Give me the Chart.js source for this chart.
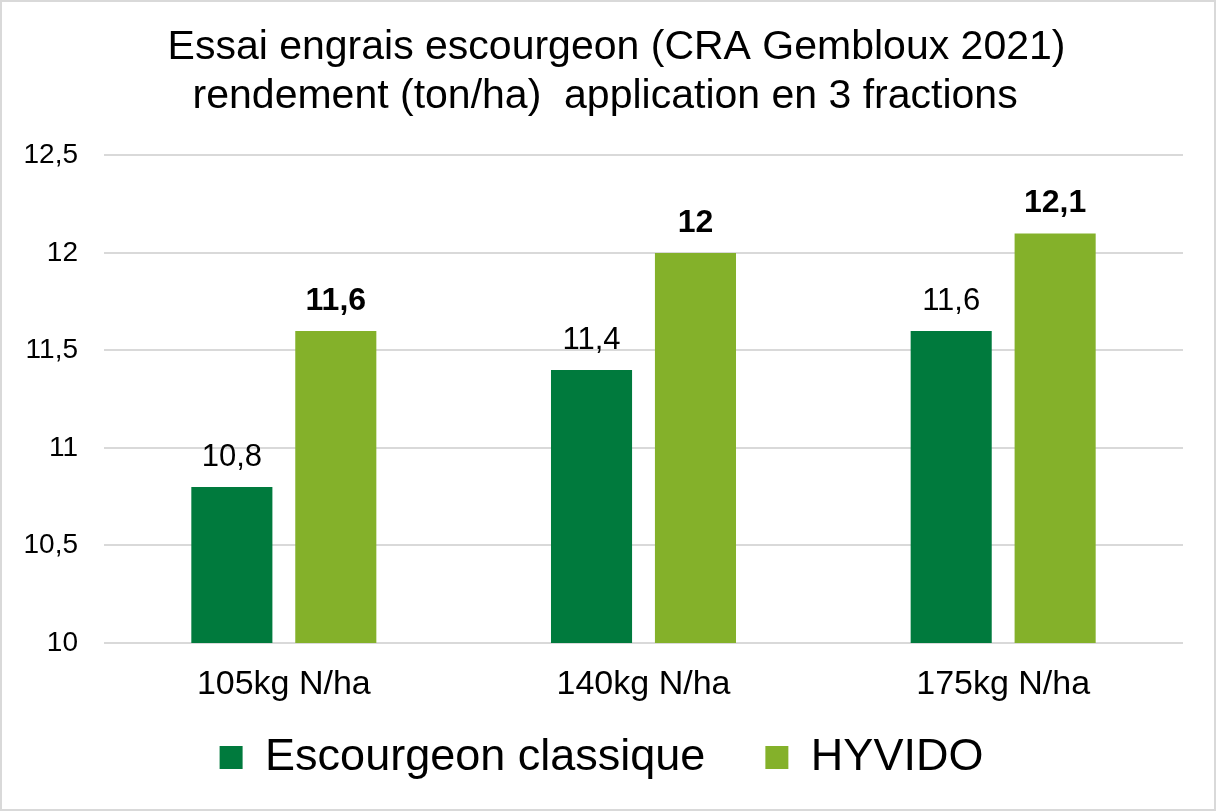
<!DOCTYPE html>
<html>
<head>
<meta charset="utf-8">
<script src="https://cdn.jsdelivr.net/npm/chart.js@4.4.0/dist/chart.umd.min.js"></script>
<style>
  html, body { margin: 0; padding: 0; background: #fff; }
  #wrap { width: 1216px; height: 811px; box-sizing: border-box; border: 2px solid #d9d9d9; background: #fff; }
  canvas { display: block; }
</style>
</head>
<body>
<div id="wrap"><canvas id="c" width="1212" height="807"></canvas></div>
<script>
const categories = ['105kg N/ha', '140kg N/ha', '175kg N/ha'];
const seriesNames = ['Escourgeon classique', 'HYVIDO'];
const classique = [10.8, 11.4, 11.6];
const hyvido = [11.6, 12.0, 12.1];
const yMin = 10, yMax = 12.5, yStep = 0.5;

const FONT = '"Liberation Sans", Arial, Helvetica, sans-serif';
const fmt = v => String(v).replace('.', ',');

const valueLabels = {
  id: 'valueLabels',
  afterDatasetsDraw(chart) {
    const ctx = chart.ctx;
    ctx.save();
    ctx.fillStyle = '#000';
    ctx.textAlign = 'center';
    ctx.textBaseline = 'alphabetic';
    chart.data.datasets.forEach((ds, di) => {
      const meta = chart.getDatasetMeta(di);
      ctx.font = (di === 1 ? 'bold 32px ' : '31px ') + FONT;
      meta.data.forEach((el, i) => {
        ctx.fillText(fmt(ds.data[i]), el.x, el.y - 21);
      });
    });
    ctx.restore();
  }
};

const layoutTweaks = {
  id: 'layoutTweaks',
  afterLayout(chart) {
    chart.legend.left += 9;
    chart.legend.right += 9;
    chart.titleBlock.left += 24;
    chart.titleBlock.right += 24;
    chart.scales.x._computeLabelArea = function () { return undefined; };
  }
};

new Chart(document.getElementById('c'), {
  type: 'bar',
  data: {
    labels: categories,
    datasets: [
      { label: seriesNames[0], data: classique, backgroundColor: '#007A3D', categoryPercentage: 0.578, barPercentage: 0.78 },
      { label: seriesNames[1], data: hyvido, backgroundColor: '#84B12A', categoryPercentage: 0.578, barPercentage: 0.78 }
    ]
  },
  options: {
    responsive: false,
    animation: false,
    devicePixelRatio: 1,
    layout: { padding: { left: 0, right: 31, top: 0, bottom: 19 } },
    plugins: {
      title: {
        display: true,
        text: ['Essai engrais escourgeon (CRA Gembloux 2021)', 'rendement (ton/ha)  application en 3 fractions  '],
        color: '#000',
        font: { family: FONT, size: 41, weight: 'normal', lineHeight: 1.2 },
        padding: { top: 21, bottom: 34 }
      },
      legend: {
        position: 'bottom',
        labels: {
          color: '#000',
          font: { family: FONT, size: 45 },
          boxWidth: 23,
          boxHeight: 23,
          padding: 60
        }
      },
      tooltip: { enabled: false }
    },
    scales: {
      x: {
        grid: { display: false },
        border: { display: false },
        ticks: { color: '#000', font: { family: FONT, size: 34 }, padding: 13 },
        afterFit(scale) { scale.height = 32; }
      },
      y: {
        min: yMin,
        max: yMax,
        ticks: { stepSize: yStep, color: '#000', font: { family: FONT, size: 28 }, padding: 26, callback: v => fmt(v) },
        grid: { color: '#d9d9d9', lineWidth: 2, drawTicks: false },
        border: { display: false },
        afterFit(scale) { scale.width = 102; }
      }
    }
  },
  plugins: [valueLabels, layoutTweaks]
});
</script>
</body>
</html>
